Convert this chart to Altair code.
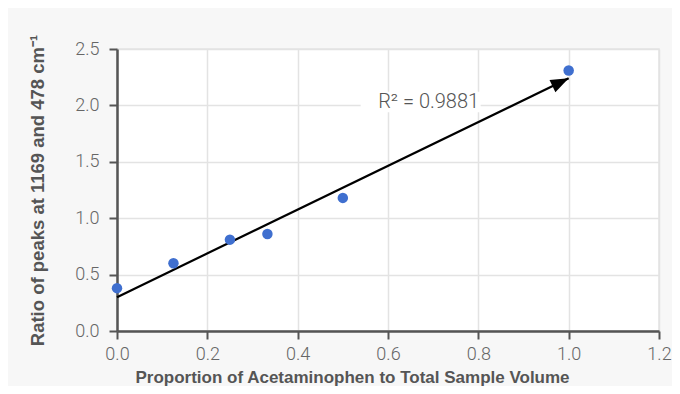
import altair as alt
import pandas as pd

# measured points
prop = [0.0, 0.125, 0.25, 0.333, 0.5, 1.0]
ratio = [0.38, 0.60, 0.81, 0.86, 1.18, 2.31]

# trend line (linear fit) end points
trend_x = [0.0, 1.0]
trend_y = [0.30, 2.24]

r2_label = "R\u00b2 = 0.9881"
r2_x = [0.69]
r2_y = [2.03]

x_ticks = [0.0, 0.2, 0.4, 0.6, 0.8, 1.0, 1.2]
y_ticks = [0.0, 0.5, 1.0, 1.5, 2.0, 2.5]

pts = pd.DataFrame({"x": prop, "y": ratio})
trend = pd.DataFrame({"x": trend_x, "y": trend_y})
head = trend.tail(1)
lab = pd.DataFrame({"x": r2_x, "y": r2_y, "t": [r2_label]})

xscale = alt.Scale(domain=[0, 1.2], nice=False, zero=False)
yscale = alt.Scale(domain=[0, 2.5], nice=False, zero=False)

xax = alt.Axis(values=x_ticks, format=".1f",
               title="Proportion of Acetaminophen to Total Sample Volume",
               titlePadding=6, titleX=235, titleAlign="center",
               labelPadding=6)
yax = alt.Axis(values=y_ticks, format=".1f",
               title="Ratio of peaks at 1169 and 478 cm\u207b\u00b9",
               titlePadding=27, titleFontSize=18.5, labelPadding=10)

X = alt.X("x:Q", scale=xscale, axis=xax)
Y = alt.Y("y:Q", scale=yscale, axis=yax)

line = alt.Chart(trend).mark_line(color="black", strokeWidth=2.2).encode(x=X, y=Y)

arrow = alt.Chart(head).mark_point(
    shape="M0,0 L-2,-0.75 L-2,0.75 Z", filled=True, fill="black", color="black",
    opacity=1, size=324, angle=334.2, strokeWidth=0
).encode(x=X, y=Y)

box = alt.Chart(lab).mark_point(
    shape="M-1,-0.17 L1,-0.17 L1,0.17 L-1,0.17 Z", filled=True, fill="white",
    opacity=1, size=14400, strokeWidth=0, xOffset=-8
).encode(x=X, y=Y)

text = alt.Chart(lab).mark_text(
    font="Roboto", fontWeight=300, fontSize=20, color="#555555",
    align="center", baseline="middle"
).encode(x=X, y=Y, text="t:N")

dots = alt.Chart(pts).mark_circle(size=110, color="#3f6fcf", opacity=1).encode(x=X, y=Y)

chart = alt.layer(line, arrow, box, text, dots).properties(
    width=542, height=282,
    autosize=alt.AutoSizeParams(type="none"),
    padding={"left": 109, "top": 41, "right": 13, "bottom": 55},
    background="#f7f7f7",
).configure_view(fill="white", stroke="#e3e3e3", strokeWidth=1.5).configure_axis(
    grid=True, gridColor="#e3e3e3", gridWidth=1.5,
    domainColor="#555555", domainWidth=2.5,
    tickColor="#555555", tickWidth=2, tickSize=8,
    labelFont="Roboto", labelFontWeight=300, labelFontSize=18, labelColor="#666666",
    labelFlush=False,
    titleFont="Liberation Sans", titleFontWeight="bold", titleFontSize=17, titleColor="#555555",
)

chart.save("out.html", embed_options={"renderer": "svg", "actions": False})
